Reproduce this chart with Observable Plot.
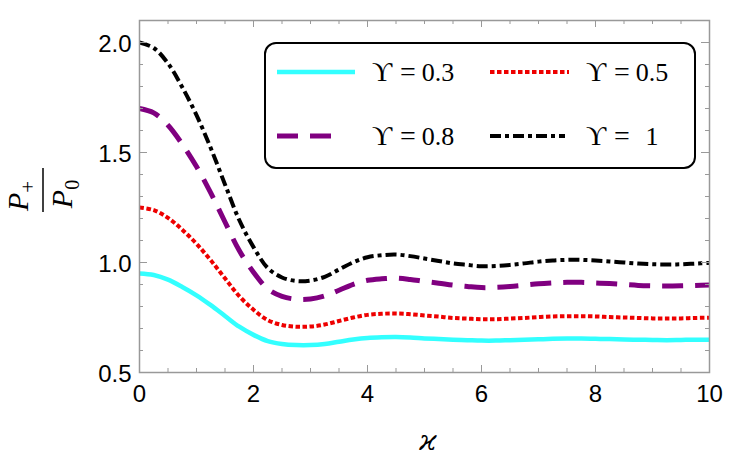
<!DOCTYPE html>
<html><head><meta charset="utf-8">
<script src="https://cdn.jsdelivr.net/npm/d3@7"></script>
<script src="https://cdn.jsdelivr.net/npm/@observablehq/plot@0.6"></script>
<style>body{margin:0;background:#fff}#chart{position:relative;width:740px;height:466px}</style>
</head><body><div id="chart"></div>
<script>
// ϰ values (x)
const kappa = [0,0.25,0.5,0.75,1,1.25,1.5,1.75,2,2.25,2.5,2.75,3,3.25,3.5,3.75,4,4.25,4.5,4.75,5,5.25,5.5,5.75,6,6.25,6.5,6.75,7,7.25,7.5,7.75,8,8.25,8.5,8.75,9,9.25,9.5,9.75,10];
// P+/P0 for each Υ
const ups03 = [0.95,0.943,0.922,0.889,0.851,0.806,0.757,0.708,0.671,0.643,0.63,0.625,0.625,0.63,0.64,0.65,0.657,0.66,0.661,0.659,0.655,0.652,0.649,0.647,0.645,0.645,0.647,0.649,0.651,0.653,0.654,0.654,0.653,0.652,0.65,0.649,0.648,0.647,0.648,0.649,0.649];
const ups05 = [1.25,1.238,1.203,1.149,1.085,1.01,0.928,0.847,0.785,0.738,0.716,0.708,0.709,0.718,0.734,0.75,0.762,0.767,0.768,0.765,0.759,0.754,0.748,0.745,0.742,0.742,0.745,0.748,0.752,0.755,0.756,0.756,0.755,0.752,0.75,0.748,0.746,0.746,0.746,0.748,0.749];
const ups08 = [1.7,1.68,1.624,1.538,1.436,1.316,1.184,1.054,0.956,0.88,0.846,0.833,0.834,0.848,0.874,0.901,0.919,0.926,0.929,0.923,0.914,0.906,0.897,0.891,0.886,0.887,0.891,0.897,0.903,0.907,0.91,0.91,0.907,0.904,0.9,0.896,0.894,0.893,0.894,0.896,0.898];
const ups10 = [2.0,1.975,1.905,1.797,1.67,1.52,1.355,1.193,1.07,0.975,0.932,0.916,0.918,0.935,0.968,1.001,1.024,1.033,1.036,1.029,1.018,1.007,0.996,0.989,0.983,0.984,0.989,0.996,1.004,1.009,1.012,1.012,1.009,1.005,1.0,0.995,0.992,0.991,0.992,0.995,0.998];
const seriesNames = ["0.3","0.5","0.8","1"];
const xMajor = [0,2,4,6,8,10];
const xMinor = [0.5,1,1.5,2.5,3,3.5,4.5,5,5.5,6.5,7,7.5,8.5,9,9.5];
const yMajor = [0.5,1.0,1.5,2.0];
const yMinor = [0.6,0.7,0.8,0.9,1.1,1.2,1.3,1.4,1.6,1.7,1.8,1.9,2.1];

const styles = {
  "0.3": {stroke:"#33ffff", width:4.5, dash:null},
  "0.5": {stroke:"#ee0000", width:4, dash:"4.5,2.5"},
  "0.8": {stroke:"#800080", width:5, dash:"21,12"},
  "1":   {stroke:"#000000", width:4, dash:"11,4,4,4"}
};
const valuesBy = {"0.3":ups03,"0.5":ups05,"0.8":ups08,"1":ups10};
const rows = seriesNames.flatMap(s => kappa.map((k,i) => ({k, v: valuesBy[s][i], s})));

const W=740, H=466, mL=139, mR=31, mT=20, mB=94;
const pw = W-mL-mR, ph = H-mT-mB;
const tickC = "#999";

const lineMarks = seriesNames.map(s => Plot.line(rows.filter(d => d.s===s), {
  x:"k", y:"v", stroke: styles[s].stroke, strokeWidth: styles[s].width,
  strokeDasharray: styles[s].dash || undefined, strokeLinecap:"butt", curve:"catmull-rom"
}));

const chart = Plot.plot({
  width: W, height: H, marginLeft: mL, marginRight: mR, marginTop: mT, marginBottom: mB,
  style: {fontFamily: "'Liberation Sans', Arial, sans-serif", fontSize: "24px", color:"#000", background:"#fff"},
  x: {domain:[0,10]},
  y: {domain:[0.5,2.1]},
  marks: [
    ...lineMarks,
    Plot.frame({stroke: tickC, strokeWidth: 1.5}),
    Plot.tickX(xMajor, {x: d=>d, insetTop: ph-7, stroke: tickC}),
    Plot.tickX(xMinor, {x: d=>d, insetTop: ph-4, stroke: tickC}),
    Plot.tickX(xMajor, {x: d=>d, insetBottom: ph-7, stroke: tickC}),
    Plot.tickX(xMinor, {x: d=>d, insetBottom: ph-4, stroke: tickC}),
    Plot.tickY(yMajor, {y: d=>d, insetRight: pw-8, stroke: tickC}),
    Plot.tickY(yMinor, {y: d=>d, insetRight: pw-4, stroke: tickC}),
    Plot.tickY(yMajor, {y: d=>d, insetLeft: pw-8, stroke: tickC}),
    Plot.tickY(yMinor, {y: d=>d, insetLeft: pw-4, stroke: tickC}),
    Plot.axisX({ticks: xMajor, tickSize: 0, tickPadding: 12, tickFormat: d=>String(d), label: null, fill:"#000"}),
    Plot.axisY({ticks: yMajor, tickSize: 0, tickPadding: 8, tickFormat: d3.format(".1f"), label: null, fill:"#000", dy: 2})
  ]
});
document.getElementById("chart").appendChild(chart);

const svg = d3.select(chart);
const serif = "'Liberation Serif','Times New Roman',serif";

// legend
const lg = svg.append("g");
lg.append("rect").attr("x",265).attr("y",43).attr("width",430).attr("height",125).attr("rx",11)
  .attr("fill","#fff").attr("stroke","#000").attr("stroke-width",2);
const legendPos = [
  {s:"0.3", x1:277, x2:355, y:72, tx:383},
  {s:"0.5", x1:490, x2:569, y:72, tx:597},
  {s:"0.8", x1:277, x2:341, y:136, tx:383},
  {s:"1",   x1:490, x2:565, y:136, tx:597}
];
legendPos.forEach(p => {
  const st = styles[p.s];
  lg.append("line").attr("x1",p.x1).attr("x2",p.x2).attr("y1",p.y).attr("y2",p.y)
    .attr("stroke",st.stroke).attr("stroke-width",st.width).attr("stroke-dasharray",st.dash||null)
    .attr("stroke-linecap","butt");
  const t = lg.append("text").attr("y",p.y+9).attr("font-family",serif).attr("font-size",26).attr("fill","#000");
  t.append("tspan").attr("x",p.tx-1).attr("font-size",28).text("ϒ");
  t.append("tspan").attr("x",p.tx+25).attr("font-size",28).text("=");
  t.append("tspan").attr("x",p.tx+55).text(p.s);
});

// y label fraction
const yl = svg.append("g").attr("transform","translate(43,190) rotate(-90)").attr("font-family",serif).attr("fill","#000");
const num = yl.append("text").attr("x",-6).attr("y",-15).attr("text-anchor","middle").attr("font-size",30).attr("font-style","italic");
num.append("tspan").text("P");
num.append("tspan").attr("font-size",21).attr("font-style","normal").attr("dy",7).text("+");
yl.append("line").attr("x1",-22).attr("x2",22).attr("y1",0).attr("y2",0).attr("stroke","#000").attr("stroke-width",1.5);
const den = yl.append("text").attr("x",-4).attr("y",29).attr("text-anchor","middle").attr("font-size",30).attr("font-style","italic");
den.append("tspan").text("P");
den.append("tspan").attr("font-size",20).attr("font-style","normal").attr("dy",7).text("0");

// x label
svg.append("text").attr("x",428).attr("y",450).attr("text-anchor","middle").attr("font-family","'DejaVu Serif',serif")
  .attr("font-style","italic").attr("font-size",28).attr("fill","#000").text("ϰ");
</script></body></html>
